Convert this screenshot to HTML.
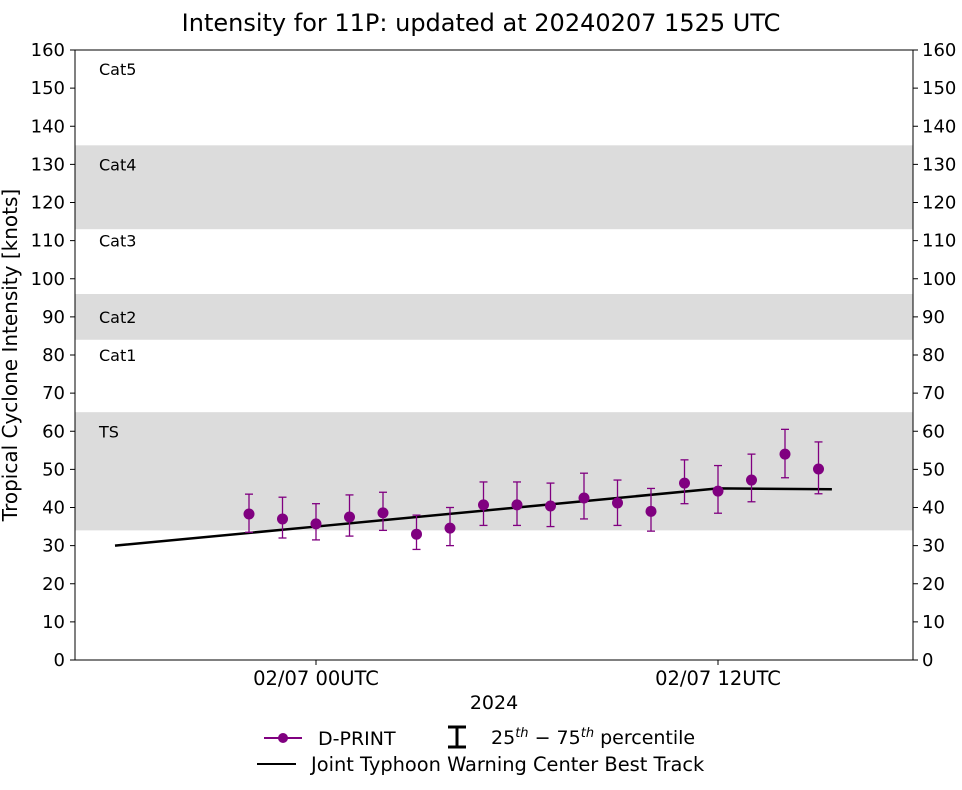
<!DOCTYPE html>
<html><head><meta charset="utf-8"><style>
body{margin:0;background:#fff;font-family:"Liberation Sans","DejaVu Sans",sans-serif;}
svg text{font-family:"DejaVu Sans","Liberation Sans",sans-serif;}
</style></head><body>
<svg id="chart" width="962" height="785" xmlns="http://www.w3.org/2000/svg">
<text x="481" y="31" font-size="24" text-anchor="middle">Intensity for 11P: updated at 20240207 1525 UTC</text>
<g id="bands"></g>
<g id="grid"></g>
<rect x="75" y="50" width="838" height="610" fill="none" stroke="#000" stroke-width="1"/>
<g id="ticks"></g>
<g id="series"></g>
<text x="17" y="355" font-size="20" text-anchor="middle" transform="rotate(-90 17 355)">Tropical Cyclone Intensity [knots]</text>
<text x="494" y="709" font-size="19" text-anchor="middle">2024</text>
<g>
<g>
<line x1="264" y1="738" x2="302" y2="738" stroke="#800080" stroke-width="2"/>
<circle cx="283" cy="738" r="5" fill="#800080"/>
<text x="318" y="745" font-size="19">D-PRINT</text></g>
<g>
<line x1="457" y1="727" x2="457" y2="747" stroke="#000" stroke-width="3"/>
<line x1="448" y1="727" x2="466" y2="727" stroke="#000" stroke-width="3"/>
<line x1="448" y1="747" x2="466" y2="747" stroke="#000" stroke-width="3"/>
<text x="491" y="744" font-size="19">25<tspan font-size="13" dy="-7" font-style="italic">th</tspan><tspan dy="7"> − 75</tspan><tspan font-size="13" dy="-7" font-style="italic">th</tspan><tspan dy="7"> percentile</tspan></text></g>
<g>
<line x1="257" y1="764" x2="296" y2="764" stroke="#000" stroke-width="2"/>
<text x="311" y="771" font-size="19.4">Joint Typhoon Warning Center Best Track</text></g>
</g>
</svg>
<script>
const dprintHours=[-2,-1,0,1,2,3,4,5,6,7,8,9,10,11,12,13,14,15];
const dprintValues=[38.3,37,35.7,37.5,38.6,33,34.6,40.7,40.7,40.4,42.5,41.2,39,46.4,44.3,47.2,54,50.1];
const dprintP25=[33.5,32,31.5,32.5,34,29,30,35.3,35.3,35,37,35.3,33.8,41,38.5,41.5,47.8,43.6];
const dprintP75=[43.5,42.7,41,43.3,44,38,40,46.7,46.7,46.4,49,47.2,45,52.5,51,54,60.5,57.2];
const bestHours=[-6,0,6,12,15.4];
const bestValues=[30,35,40,45,44.8];
const yTicks=[0,10,20,30,40,50,60,70,80,90,100,110,120,130,140,150,160];
const xTickHours=[0,12];
const xTickLabels=["02/07 00UTC","02/07 12UTC"];
const bandRanges=[[34,65],[84,96],[113,135]];
const catLabels=["TS","Cat1","Cat2","Cat3","Cat4","Cat5"];
const catLabelValues=[60,80,90,110,130,155];
const NS="http://www.w3.org/2000/svg";
const X=h=>316+h*33.5;
const Y=v=>660-v*610/160;
function mk(p,t,a){const e=document.createElementNS(NS,t);for(const k in a)e.setAttribute(k,a[k]);document.getElementById(p).appendChild(e);return e;}
bandRanges.forEach(r=>{const e=mk('bands','rect',{x:75,y:Y(r[1]),width:838,height:Y(r[0])-Y(r[1]),fill:'#dcdcdc'});

});
catLabels.forEach((c,i)=>{const e=mk('bands','text',{x:99,y:Y(catLabelValues[i])+6,'font-size':16});e.textContent=c;

});
yTicks.forEach(v=>{const y=Y(v);
mk('ticks','line',{x1:70,x2:75,y1:y,y2:y,stroke:'#000'});
mk('ticks','line',{x1:913,x2:918,y1:y,y2:y,stroke:'#000'});
const l=mk('ticks','text',{x:65,y:y+6,'font-size':18,'text-anchor':'end'});l.textContent=v;


const r=mk('ticks','text',{x:922,y:y+6,'font-size':18});r.textContent=v;

});
xTickHours.forEach((h,i)=>{const x=X(h);mk('ticks','line',{x1:x,x2:x,y1:660,y2:665,stroke:'#000'});
const t=mk('ticks','text',{x:x,y:685,'font-size':19.5,'text-anchor':'middle'});t.textContent=xTickLabels[i];

});
const bt=mk('series','polyline',{points:bestHours.map((h,i)=>X(h)+','+Y(bestValues[i])).join(' '),fill:'none',stroke:'#000','stroke-width':2.5});


dprintHours.forEach((h,i)=>{const x=X(h);
const g=mk('series','g',{});


const a={stroke:'#800080','stroke-width':1.3};
const ln=(x1,y1,x2,y2)=>{const e=document.createElementNS(NS,'line');Object.entries({x1,y1,x2,y2,...a}).forEach(([k,v])=>e.setAttribute(k,v));g.appendChild(e);};
ln(x,Y(dprintP25[i]),x,Y(dprintP75[i]));
ln(x-4,Y(dprintP25[i]),x+4,Y(dprintP25[i]));
ln(x-4,Y(dprintP75[i]),x+4,Y(dprintP75[i]));
const c=document.createElementNS(NS,'circle');c.setAttribute('cx',x);c.setAttribute('cy',Y(dprintValues[i]));c.setAttribute('r',5.5);c.setAttribute('fill','#800080');g.appendChild(c);});
</script>
</body></html>
